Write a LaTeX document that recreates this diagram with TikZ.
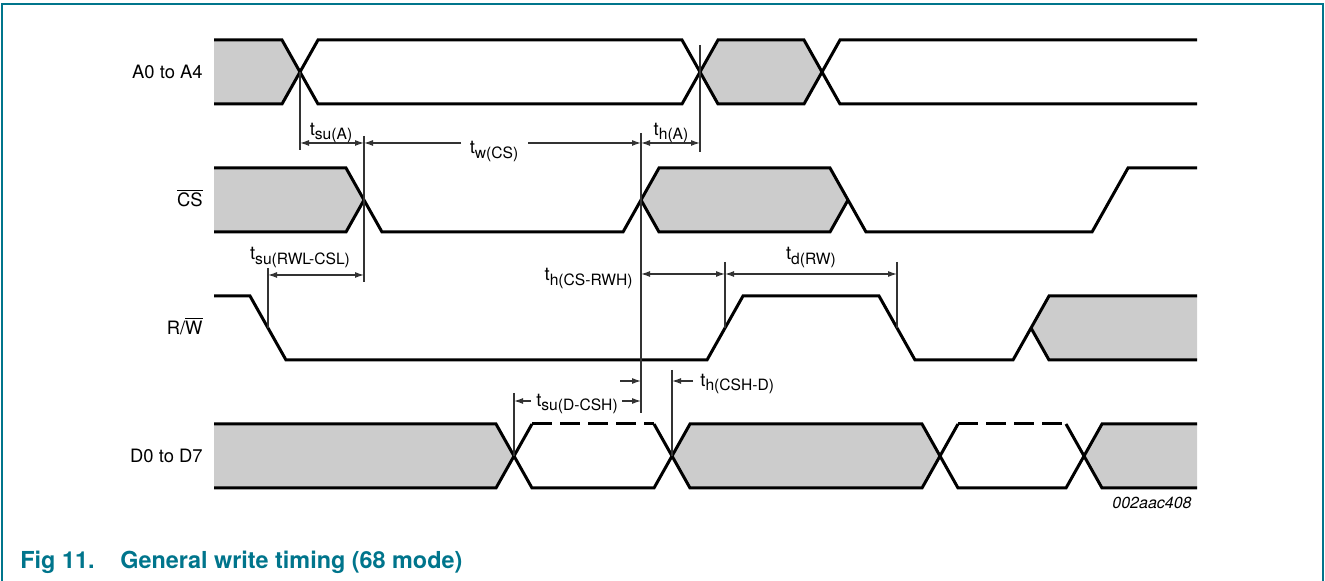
\documentclass[tikz,border=0pt]{standalone}
\usepackage{fontspec}
\setmainfont{TeX Gyre Heros}
\usetikzlibrary{arrows.meta}
\definecolor{frameteal}{RGB}{0,117,140}
\definecolor{shadegray}{RGB}{204,204,204}
\newcommand\lblsize{\fontsize{9.2}{11}\selectfont}
\newcommand\tsb[1]{t\raisebox{-2.2pt}{\fontsize{7.8}{9}\selectfont #1}}
\begin{document}
\begin{tikzpicture}[x=0.5pt,y=-0.5pt,
  sig/.style={line width=1.5pt, draw=black},
  shade/.style={fill=shadegray, draw=none},
  ann/.style={line width=0.6pt, draw=black!80},
  arr/.style={ann, -{Latex[length=4.5pt,width=3pt]}},
  dimarr/.style={ann, {Latex[length=4.5pt,width=3pt]}-{Latex[length=4.5pt,width=3pt]}},
  lbl/.style={font=\lblsize, inner sep=0pt},
  dashtop/.style={sig, dash pattern=on 10pt off 4pt}]
\useasboundingbox (0,0) rectangle (1325,581);
% frame
\draw[frameteal, line width=0.65pt] (2,581) -- (2,4) -- (1323,4) -- (1323,581);

% ---------- signal names
\node[lbl, anchor=base east] (nA) at (203,78.5) {A0 to A4};
\node[lbl, anchor=base east] (nCS) at (203,206.5) {$\overline{\mbox{CS}}$};
\node[lbl, anchor=base east] (nRW) at (203,334.5) {R/$\overline{\mbox{W}}$};
\node[lbl, anchor=base east] (nD) at (203,462.5) {D0 to D7};

% ---------- A0 to A4
\fill[shade] (214,40) -- (282,40) -- (300,72) -- (282,104) -- (214,104) -- cycle;
\fill[shade] (700,72) -- (718,40) -- (804,40) -- (822,72) -- (804,104) -- (718,104) -- cycle;
\draw[sig] (214,40) -- (282,40) -- (318,104) -- (682,104) -- (718,40) -- (804,40) -- (840,104) -- (1197,104);
\draw[sig] (214,104) -- (282,104) -- (318,40) -- (682,40) -- (718,104) -- (804,104) -- (840,40) -- (1197,40);

% ---------- CS
\fill[shade] (214,168) -- (346,168) -- (364,200) -- (346,232) -- (214,232) -- cycle;
\fill[shade] (641,200) -- (659,168) -- (830,168) -- (848,200) -- (830,232) -- (659,232) -- cycle;
\draw[sig] (214,168) -- (346,168) -- (382,232) -- (623,232) -- (659,168) -- (830,168) -- (866,232) -- (1092,232) -- (1128,168) -- (1197,168);
\draw[sig] (214,232) -- (346,232) -- (364,200);
\draw[sig] (641,200) -- (659,232) -- (830,232) -- (848,200);

% ---------- R/W
\fill[shade] (1031,328) -- (1049,296) -- (1197,296) -- (1197,360) -- (1049,360) -- cycle;
\draw[sig] (214,296) -- (250,296) -- (286,360) -- (707,360) -- (743,296) -- (879,296) -- (915,360) -- (1013,360) -- (1049,296) -- (1197,296);
\draw[sig] (1031,328) -- (1049,360) -- (1197,360);

% ---------- D0 to D7
\fill[shade] (214,424) -- (496,424) -- (514,456) -- (496,488) -- (214,488) -- cycle;
\fill[shade] (672,456) -- (690,424) -- (922,424) -- (940,456) -- (922,488) -- (690,488) -- cycle;
\fill[shade] (1084,456) -- (1102,424) -- (1197,424) -- (1197,488) -- (1102,488) -- cycle;
\draw[sig] (214,424) -- (496,424) -- (532,488) -- (654,488) -- (690,424) -- (922,424) -- (958,488) -- (1066,488) -- (1102,424) -- (1197,424);
\draw[sig] (214,488) -- (496,488) -- (532,424);
\draw[sig] (654,424) -- (690,488) -- (922,488) -- (958,424);
\draw[sig] (1066,424) -- (1102,488) -- (1197,488);
\draw[dashtop] (532,424) -- (654,424);
\draw[dashtop] (958,424) -- (1066,424);

% ---------- reference coordinates
\coordinate (v300t) at (300,72);   \coordinate (v300b) at (300,150);
\coordinate (v364t) at (364,136);  \coordinate (v364b) at (364,282);
\coordinate (v641t) at (641,133);  \coordinate (v641b) at (641,413);
\coordinate (v700t) at (700,45);   \coordinate (v700b) at (700,152);
\coordinate (v268t) at (268,268);  \coordinate (v268b) at (268,328);
\coordinate (v725t) at (725,262);  \coordinate (v725b) at (725,328);
\coordinate (v897t) at (897,262);  \coordinate (v897b) at (897,328);
\coordinate (v514t) at (514,393);  \coordinate (v514b) at (514,456);
\coordinate (v672t) at (672,370);  \coordinate (v672b) at (672,456);

\draw[ann] (v300t) -- (v300b);
\draw[ann] (v364t) -- (v364b);
\draw[ann] (v641t) -- (v641b);
\draw[ann] (v700t) -- (v700b);
\draw[ann] (v268t) -- (v268b);
\draw[ann] (v725t) -- (v725b);
\draw[ann] (v897t) -- (v897b);
\draw[ann] (v514t) -- (v514b);
\draw[ann] (v672t) -- (v672b);

% ---------- dimension arrows
\coordinate (a1) at (300,143); \coordinate (a2) at (364,143);
\coordinate (a3) at (641,143); \coordinate (a4) at (700,143);
\coordinate (tw1) at (461,143); \coordinate (tw2) at (528,143);
\draw[dimarr] (a1) -- (a2);
\draw[arr] (tw1) -- (a2);
\draw[arr] (tw2) -- (a3);
\draw[dimarr] (a3) -- (a4);
\node[lbl, anchor=base] (lsuA) at (331,135.5) {\tsb{su(A)}};
\node[lbl, anchor=base] (lwCS) at (494,154) {\tsb{w(CS)}};
\node[lbl, anchor=base] (lhA) at (671,135.5) {\tsb{h(A)}};

\coordinate (b1) at (268,275); \coordinate (b2) at (364,275);
\draw[dimarr] (b1) -- (b2);
\node[lbl, anchor=base] (lsuRWL) at (300,260) {\tsb{su(RWL-CSL)}};

\coordinate (c1) at (641,274); \coordinate (c2) at (725,274); \coordinate (c3) at (897,274);
\draw[dimarr] (c1) -- (c2);
\draw[dimarr] (c2) -- (c3);
\node[lbl, anchor=base east] (lhCSRWH) at (633,281) {\tsb{h(CS-RWH)}};
\node[lbl, anchor=base] (ldRW) at (811,260) {\tsb{d(RW)}};

\coordinate (d1) at (514,401); \coordinate (d1e) at (531,401);
\coordinate (d2) at (641,401); \coordinate (d2e) at (622,401);
\draw[arr] (d1e) -- (d1);
\draw[arr] (d2e) -- (d2);
\node[lbl, anchor=base] (lsuDCSH) at (577,406.5) {\tsb{su(D-CSH)}};

\coordinate (e1) at (620,381); \coordinate (e2) at (641,381);
\coordinate (e3) at (693,381); \coordinate (e4) at (672,381);
\draw[arr] (e1) -- (e2);
\draw[arr] (e3) -- (e4);
\node[lbl, anchor=base west] (lhCSHD) at (700,386.5) {\tsb{h(CSH-D)}};

% ---------- figure code and caption
\node[anchor=base, inner sep=0pt, font=\fontsize{8}{9}\selectfont\itshape] (code) at (1152,509) {002aac408};
\node[anchor=base west, inner sep=0pt, text=frameteal, font=\fontsize{11.7}{14}\selectfont\bfseries] (capnum) at (20,568) {Fig 11.};
\node[anchor=base west, inner sep=0pt, text=frameteal, font=\fontsize{11.7}{14}\selectfont\bfseries] (captxt) at (120,568) {General write timing (68 mode)};
\end{tikzpicture}
\end{document}
